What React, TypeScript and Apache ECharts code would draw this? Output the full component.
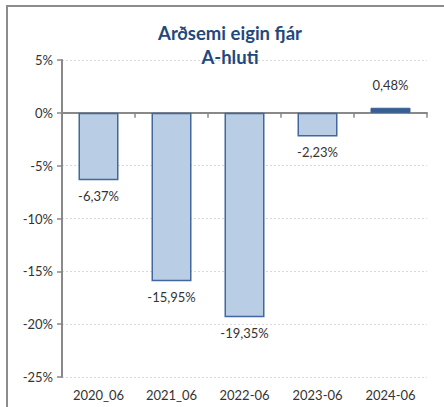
import React, { useEffect, useRef } from "react";
import * as echarts from "echarts";

const categories = ["2020_06", "2021_06", "2022-06", "2023-06", "2024-06"];
const values = [-6.37, -15.95, -19.35, -2.23, 0.48];
const titleText = "Arðsemi eigin fjár\nA-hluti";
const yMin = -25;
const yMax = 5;
const yInterval = 5;

const FONT = "Lato";
const AXIS_GRAY = "#898989";

export default function App() {
  const ref = useRef<HTMLDivElement>(null);
  useEffect(() => {
    if (!ref.current) return;
    const chart = echarts.init(ref.current, undefined, { renderer: "svg" });
    const fmt = (v: number) => v.toFixed(2).replace(".", ",") + "%";
    chart.setOption({
      animation: false,
      backgroundColor: "#ffffff",
      textStyle: { fontFamily: FONT },
      title: {
        text: titleText,
        left: 225,
        top: 16,
        textAlign: "center",
        textStyle: {
          fontFamily: FONT,
          fontSize: 18.5,
          fontWeight: "bold",
          color: "#1F497D",
          lineHeight: 24,
        },
      },
      graphic: [
        {
          type: "rect",
          shape: { x: 7, y: 6, width: 470, height: 430 },
          style: { fill: "none", stroke: "#8c8c8c", lineWidth: 2 },
          silent: true,
        },
      ],
      grid: { left: 62, right: 17, top: 60, bottom: 30 },
      xAxis: [
        {
          type: "category",
          data: categories,
          position: "top",
          axisLine: { show: true, onZero: true, lineStyle: { color: AXIS_GRAY, width: 2 } },
          axisTick: { show: true, inside: true, length: 5, lineStyle: { color: AXIS_GRAY, width: 1.5 } },
          axisLabel: { show: false },
          splitLine: { show: false },
        },
        {
          type: "category",
          data: categories,
          position: "bottom",
          axisLine: { show: false },
          axisTick: { show: false },
          axisLabel: { margin: 11, fontSize: 13, color: "#333333", fontFamily: FONT },
          splitLine: { show: false },
        },
      ],
      yAxis: {
        type: "value",
        min: yMin,
        max: yMax,
        interval: yInterval,
        axisLine: { show: true, lineStyle: { color: AXIS_GRAY, width: 2 } },
        axisTick: { show: true, length: 5, lineStyle: { color: AXIS_GRAY, width: 1.5 } },
        axisLabel: { formatter: "{value}%", margin: 9, fontSize: 13, color: "#333333", fontFamily: FONT },
        splitLine: { show: true, lineStyle: { color: "#d9d9d9", type: [2, 2], width: 1 } },
      },
      series: [
        {
          type: "bar",
          xAxisIndex: 0,
          barWidth: 40,
          data: values.map((v) => ({
            value: v,
            itemStyle:
              v >= 0
                ? { color: "#376092", borderColor: "#376092", borderWidth: 1 }
                : { color: "#B9CDE5", borderColor: "#41679E", borderWidth: 1.5 },
            label: {
              show: true,
              position: v >= 0 ? "top" : "bottom",
              distance: v >= 0 ? 16 : 9,
            },
          })),
          label: {
            show: true,
            formatter: (p: any) => fmt(p.value),
            fontSize: 13,
            color: "#333333",
            fontFamily: FONT,
          },
        },
      ],
    });
    return () => chart.dispose();
  }, []);
  return (
    <div
      ref={ref}
      style={{ position: "absolute", left: 0, top: 0, width: 444, height: 407 }}
    />
  );
}
